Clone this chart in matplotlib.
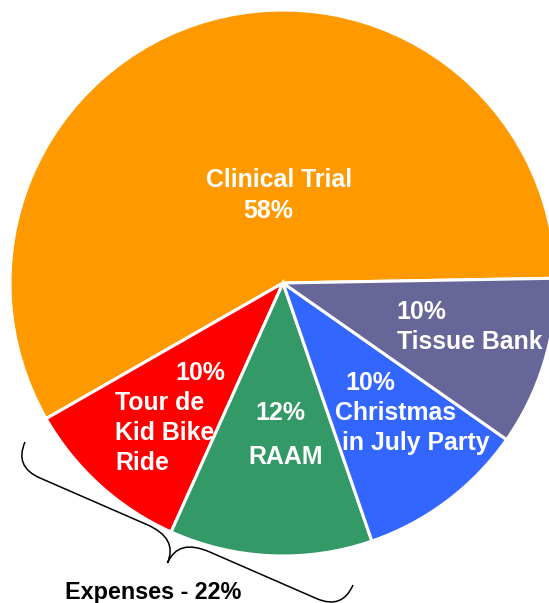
import numpy as np
import matplotlib
matplotlib.use("Agg")
import matplotlib.pyplot as plt
from matplotlib.path import Path
from matplotlib.patches import PathPatch

# ---- data ----
categories = ["Clinical Trial", "Tour de Kid Bike Ride", "RAAM",
              "Christmas in July Party", "Tissue Bank"]
values = [58, 10, 12, 10, 10]
colors = ["#FF9900", "#FF0000", "#339966", "#3366FF", "#666699"]
expenses_label = "Expenses - 22%"

W, H = 549, 603
fig = plt.figure(figsize=(W / 100, H / 100), dpi=100)
ax = fig.add_axes([0, 0, 1, 1])

def Y(y):
    return H - y

ax.pie(values, colors=colors, startangle=1.0, counterclock=True,
       center=(283, Y(283)), radius=273,
       wedgeprops=dict(edgecolor="white", linewidth=2.2))
ax.set_xlim(0, W)
ax.set_ylim(0, H)
ax.set_aspect("equal")
ax.axis("off")

font = ["Liberation Sans", "DejaVu Sans"]
pct = [f"{v}%" for v in values]

# label layout: (text, left x, baseline y) in pixel coords
label_lines = [
    (categories[0], 206, 187), (pct[0], 243, 218),
    (pct[1], 175, 380), ("Tour de", 115, 410), ("Kid Bike", 115, 440), ("Ride", 115, 470),
    (pct[2], 255, 420), (categories[2], 248, 464),
    (pct[3], 345, 390), ("Christmas", 335, 420), ("in July Party", 342, 450),
    (pct[4], 396, 319), (categories[4], 397, 349),
]
for s, x, y in label_lines:
    ax.text(x, Y(y), s, color="white", fontsize=17.9, fontweight="bold",
            family=font, ha="left", va="baseline")

ax.text(65, Y(599), expenses_label, color="black", fontsize=16.8,
        fontweight="bold", family=font, ha="left", va="baseline")

# ---- curly brace ----
p0 = np.array([25.0, 442.0])
p1 = np.array([353.0, 585.0])
L = np.linalg.norm(p1 - p0)
u = (p1 - p0) / L
n = np.array([-u[1], u[0]])
h = 54.0
r = 28.0
rt = 34.0
local = [
    ((0, 0), Path.MOVETO),
    ((0, h / 2), Path.CURVE3), ((r, h / 2), Path.CURVE3),
    ((L / 2 - rt, h / 2), Path.LINETO),
    ((L / 2, h / 2), Path.CURVE3), ((L / 2, h), Path.CURVE3),
    ((L / 2, h / 2), Path.CURVE3), ((L / 2 + rt, h / 2), Path.CURVE3),
    ((L - r, h / 2), Path.LINETO),
    ((L, h / 2), Path.CURVE3), ((L, 0), Path.CURVE3),
]
verts, codes = [], []
for (s, t), c in local:
    pt = p0 + s * u + t * n
    verts.append((pt[0], Y(pt[1])))
    codes.append(c)
ax.add_patch(PathPatch(Path(verts, codes), facecolor="none",
                       edgecolor="black", linewidth=1.1))

fig.savefig("out.png", dpi=100)
